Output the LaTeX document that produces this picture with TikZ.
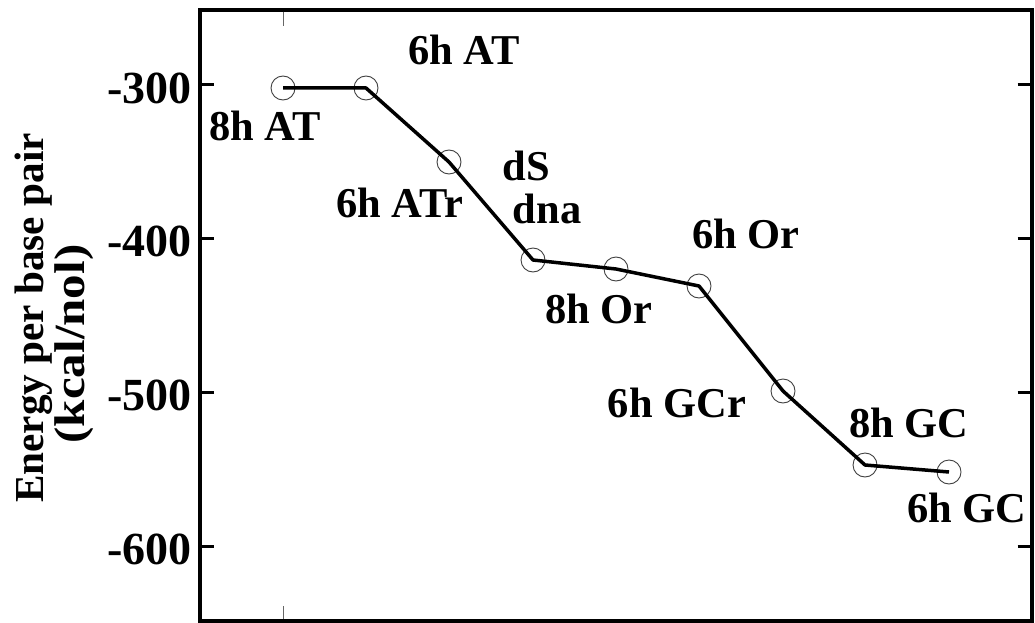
\documentclass[tikz,border=0pt]{standalone}
\usepackage{fontspec}
\usepackage{graphicx}
\setmainfont{Liberation Serif}
\begin{document}
\begin{tikzpicture}[x=1pt,y=-1pt,
  pt/.style={circle,draw=black!75,line width=0.9pt,minimum size=24pt,inner sep=0pt},
  lbl/.style={font=\fontsize{42.5}{44}\selectfont\bfseries,inner sep=0pt,anchor=base},
  ticklbl/.style={font=\fontsize{46}{48}\selectfont\bfseries,inner sep=0pt,anchor=base east},
  frame/.style={line width=4pt},
  ytick/.style={line width=3pt},
  xtick/.style={line width=1pt,black!60},
  dataline/.style={line width=3.5pt,line join=round}]
\useasboundingbox (0,0) rectangle (1035,623);
% frame
\draw[frame] (200,9.7) rectangle (1031.5,621);
% y ticks and labels
\foreach \v/\y in {-300/85,-400/238.7,-500/392.4,-600/546}{
  \draw[ytick] (200,\y) -- (214,\y);
  \draw[ytick] (1017.5,\y) -- (1031.5,\y);
}
\node[ticklbl] (t300) at (192,103) {-300};
\node[ticklbl] (t400) at (192,256.7) {-400};
\node[ticklbl] (t500) at (192,410.4) {-500};
\node[ticklbl] (t600) at (192,564) {-600};
% x ticks
\draw[xtick] (283,11.7) -- (283,26);
\draw[xtick] (283,606) -- (283,619);
% axis label
\node[font=\fontsize{41.2}{43}\selectfont\bfseries,inner sep=0pt,rotate=90,anchor=base] (ylab1) at (43,318) {Energy per base pair};
\node[font=\fontsize{43}{45}\selectfont\bfseries,inner sep=0pt,rotate=90,anchor=base] (ylab2) at (84,344) {\scalebox{1.14}[1]{(kcal/nol)}};
% data points
\node[pt] (p1) at (283,88) {};
\node[pt] (p2) at (366,88) {};
\node[pt] (p3) at (449,162) {};
\node[pt] (p4) at (533,260) {};
\node[pt] (p5) at (616,269) {};
\node[pt] (p6) at (699,286) {};
\node[pt] (p7) at (783,391) {};
\node[pt] (p8) at (865,465) {};
\node[pt] (p9) at (949,472) {};
\draw[dataline] (p1.center) -- (p2.center) -- (p3.center) -- (p4.center) -- (p5.center) -- (p6.center) -- (p7.center) -- (p8.center) -- (p9.center);
% labels
\node[lbl] (l2) at (464,65) {6h AT};
\node[lbl] (l1) at (265,140) {8h AT};
\node[lbl] (l3) at (400,217) {6h ATr};
\node[lbl] (l4a) at (526,180) {dS};
\node[lbl] (l4b) at (547,223) {dna};
\node[lbl] (l6) at (746,248) {6h Or};
\node[lbl] (l5) at (599,323) {8h Or};
\node[lbl] (l7) at (677,417) {6h GCr};
\node[lbl] (l8) at (909,437) {8h GC};
\node[lbl] (l9) at (967,522) {6h GC};
\end{tikzpicture}
\end{document}
